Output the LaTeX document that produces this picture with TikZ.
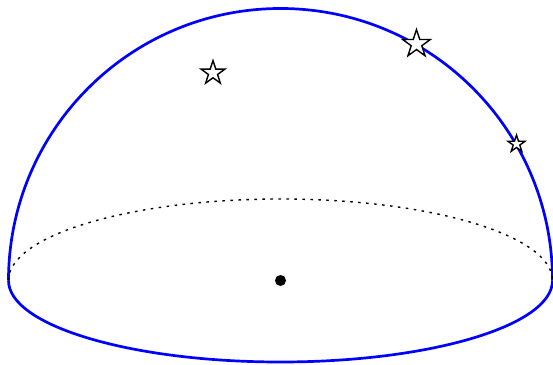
\documentclass[tikz,border=0pt]{standalone}
\usetikzlibrary{shapes.geometric}
\begin{document}
\begin{tikzpicture}[x=1pt,y=1pt,
  rim/.style={blue,line width=2.7pt},
  hidden/.style={black,line width=1.4pt,dash pattern=on 2.5pt off 5.5pt},
  starnode/.style={star,star points=5,star point ratio=2.6,draw=black,fill=white,line width=1.4pt,inner sep=0pt}]
\useasboundingbox (0,0) rectangle (553,364);
\coordinate (O) at (280.5,83.5);
\draw[rim] (8.5,83.5) arc[start angle=180,end angle=0,radius=272];
\draw[rim] (8.5,83.5) arc[start angle=180,end angle=360,x radius=272,y radius=81.5];
\draw[hidden] (8.5,83.5) arc[start angle=180,end angle=0,x radius=272,y radius=81.5];
\fill[black] (O) circle[radius=5.5];
\node[starnode,minimum size=25pt] (s1) at (213,291) {};
\node[starnode,minimum size=29pt] (s2) at (416.5,320) {};
\node[starnode,minimum size=18pt] (s3) at (516.5,220) {};
\end{tikzpicture}
\end{document}
